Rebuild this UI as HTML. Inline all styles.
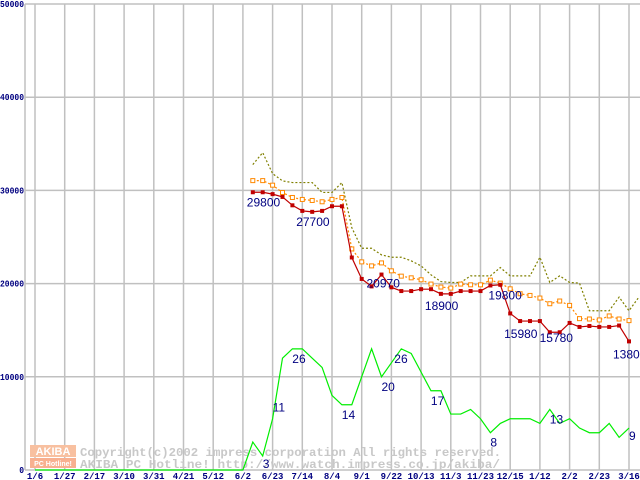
<!DOCTYPE html>
<html><head><meta charset="utf-8"><style>
html,body{margin:0;padding:0;background:#fff;width:640px;height:480px;overflow:hidden}
svg{display:block}
text{font-family:"Liberation Mono",monospace}
text.sans{font-family:"Liberation Sans",sans-serif}
</style></head><body>
<svg id="chart" width="640" height="480" xmlns="http://www.w3.org/2000/svg"></svg>
<script>
const xLabels=["1/6","1/27","2/17","3/10","3/31","4/21","5/12","6/2","6/23","7/14","8/4","9/1","9/22","10/13","11/3","11/23","12/15","1/12","2/2","2/23","3/16"];
const yTicks=[0,10000,20000,30000,40000,50000];
const priceStart=22;
const minPrice=[29800,29800,29600,29300,28400,27800,27700,27800,28300,28300,22800,20500,19700,20970,19600,19200,19200,19400,19400,18900,18900,19200,19200,19200,19800,19870,16800,15980,15980,15980,14780,14780,15780,15350,15450,15350,15350,15500,13800];
const avgPrice=[31050,31050,30560,29770,29240,29030,28920,28780,29030,29240,23720,22330,21900,22220,21370,20800,20620,20410,19950,19630,19520,19950,19870,19870,20370,20050,19440,18910,18730,18450,17840,18130,17660,16240,16200,16100,16530,16200,16030];
const maxPrice=[32770,34050,31800,31020,30840,30840,30840,29780,29780,30840,26000,23790,23790,23080,22830,22830,22440,21900,20940,20220,20120,20120,20830,20830,20830,21720,20830,20830,20830,22830,20120,20830,20120,20050,17090,17090,17090,18550,17090,18550];
const countStart=21;
const shopCount=[0,6,3,11,24,26,26,24,22,16,14,14,20,26,20,23,26,25,21,17,17,12,12,13,11,8,10,11,11,11,10,13,10,11,9,8,8,10,7,9];
const priceLabels=[[22,29800,-6,14],[28,27700,-16,14],[35,20970,-15,13],[41,18900,-16,16],[46,19800,-2,14],[49,15980,-16,17],[54,15780,-30,19],[60,13800,-16,17]];
const countLabels=[[23,3,0,12],[24,11,0,-7],[27,26,-10,14],[32,14,-10,14],[35,20,0,14],[37,26,-7,14],[41,17,-10,14],[46,8,0,14],[52,13,0,14],[60,9,0,12]];

const svg=document.getElementById('chart');
const NS='http://www.w3.org/2000/svg';
const X0=35, DX=9.9, Y0=470, SY=0.00932;
function xs(k){return X0+k*DX;}
function ys(v){return Y0-v*SY;}
function mk(tag,attrs){const e=document.createElementNS(NS,tag);for(const a in attrs)e.setAttribute(a,attrs[a]);svg.appendChild(e);return e;}

yTicks.forEach(v=>{
 const l=mk('line',{x1:25,x2:640,y1:ys(v),y2:ys(v),stroke:'#c0c0c0','stroke-width':1.5});
 
 
 const s=String(v);
 const w=s.length*4.8;
 const t=mk('text',{x:24-w,y:ys(v)+3,'font-size':9,'font-weight':'bold',fill:'#000080',textLength:w,lengthAdjust:'spacingAndGlyphs'});
 t.textContent=s;
 
 
});
xLabels.forEach((s,i)=>{
 const x=xs(i*3);
 const l=mk('line',{x1:x,x2:x,y1:4,y2:470,stroke:'#c0c0c0','stroke-width':1.5});
 
 
 const t=mk('text',{x:x,y:479,'text-anchor':'middle','font-size':9,'font-weight':'bold',fill:'#000080'});
 t.textContent=s;
 
 
});
const ax=mk('line',{x1:25,x2:25,y1:4,y2:470,stroke:'#c0c0c0','stroke-width':1.5});



const wm=document.createElementNS(NS,'g');svg.appendChild(wm);


wm.innerHTML='<rect x="30" y="445" width="46" height="12" fill="#f8c0a0"/><text class="sans" x="53" y="455" text-anchor="middle" font-size="11" font-weight="bold" fill="#fff">AKIBA</text><rect x="30" y="458" width="46" height="10" fill="#f8b090"/><text class="sans" x="53" y="466" text-anchor="middle" font-size="7" font-weight="bold" fill="#fff">PC Hotline!</text><text x="80" y="456" font-size="12" font-weight="bold" fill="#c8c8c8" textLength="421" lengthAdjust="spacingAndGlyphs">Copyright(c)2002 impress corporation All rights reserved.</text><text x="80" y="468" font-size="12" font-weight="bold" fill="#c8c8c8" textLength="420" lengthAdjust="spacingAndGlyphs">AKIBA PC Hotline!  http://www.watch.impress.co.jp/akiba/</text>';

let gp=[];
for(let k=0;k<countStart;k++)gp.push(xs(k)+','+ys(0));
shopCount.forEach((c,i)=>gp.push(xs(countStart+i)+','+ys(c*500)));
const g=mk('polyline',{points:gp.join(' '),fill:'none',stroke:'#00ee00','stroke-width':1.2});



function series(arr,start,color,dash,marker,name){
 const pts=arr.map((v,i)=>xs(start+i)+','+ys(v)).join(' ');
 const p=mk('polyline',{points:pts,fill:'none',stroke:color,'stroke-width':1.2});
 if(dash)p.setAttribute('stroke-dasharray',dash);
 
 
 if(marker){arr.forEach((v,i)=>{
  const r=mk('rect',{x:xs(start+i)-2,y:ys(v)-2,width:4,height:4,fill:marker==='fill'?color:'#fff',stroke:color,'stroke-width':marker==='fill'?0:1});
  
  
 });}
}
series(maxPrice,priceStart,'#808000','2,2',null,'max-price');
series(avgPrice,priceStart,'#ff8800','2,2','open','avg-price');
series(minPrice,priceStart,'#c00000',null,'fill','min-price');

priceLabels.forEach(([k,v,dx,dy])=>{
 const t=mk('text',{class:'sans',x:xs(k)+dx,y:ys(v)+dy,'font-size':12,fill:'#000080'});
 t.textContent=v;
 
 
});
countLabels.forEach(([k,c,dx,dy])=>{
 const t=mk('text',{class:'sans',x:xs(k)+dx,y:ys(c*500)+dy,'font-size':12,fill:'#000080'});
 t.textContent=c;
 
 
});
</script>
</body></html>
